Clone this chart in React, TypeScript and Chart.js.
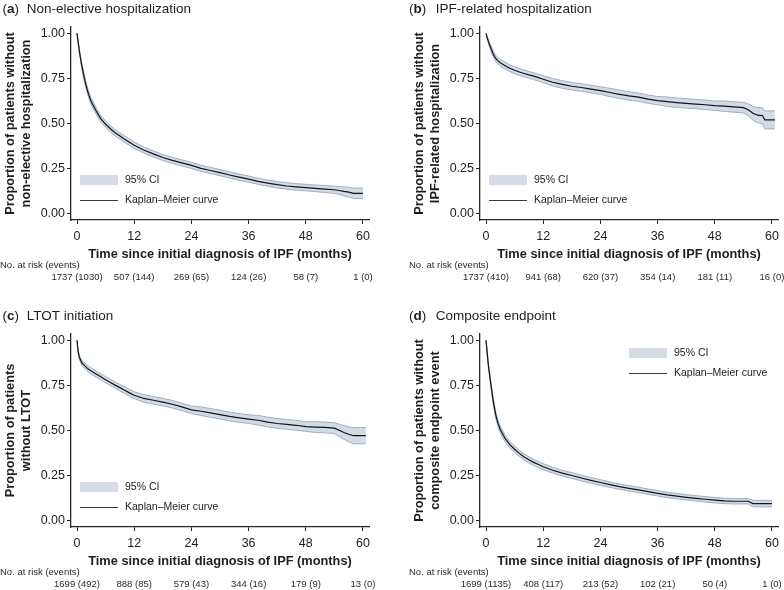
import React, { useEffect, useRef } from 'react';
import { Chart, registerables } from 'chart.js';

Chart.register(...registerables);

const FONT = '"Liberation Sans", Arial, Helvetica, sans-serif';
const TEXT = '#1e1e1e';
const AXIS = '#262626';
const CI_FILL = 'rgba(200,210,224,0.8)';
const CI_EDGE = '#9eafc3';
const KM_LINE = '#141414';

const X_TICKS = [0, 12, 24, 36, 48, 60];
const Y_TICKS = [0, 0.25, 0.5, 0.75, 1];
const X_TITLE = 'Time since initial diagnosis of IPF (months)';
const RISK_LABEL = 'No. at risk (events)';
const LEGEND_CI = '95% CI';
const LEGEND_KM = 'Kaplan–Meier curve';

// (a) Non-elective hospitalization
const titleA = 'Non-elective hospitalization';
const yTitleA = ['Proportion of patients without', 'non-elective hospitalization'];
const monthsA = [0, 0.25, 0.5, 0.75, 1, 1.5, 2, 2.5, 3, 4, 5, 6, 7, 8, 9, 10, 11, 12, 14, 16, 18, 20, 22, 24, 26, 28, 30, 32, 34, 36, 38, 40, 42, 44, 46, 48, 50, 52, 54, 55, 56, 57, 58, 60];
const kmA = [1, 0.95, 0.9, 0.86, 0.82, 0.755, 0.7, 0.655, 0.62, 0.57, 0.525, 0.495, 0.47, 0.448, 0.43, 0.412, 0.395, 0.378, 0.352, 0.33, 0.31, 0.294, 0.28, 0.266, 0.25, 0.238, 0.226, 0.213, 0.201, 0.19, 0.178, 0.168, 0.159, 0.152, 0.147, 0.143, 0.139, 0.135, 0.131, 0.127, 0.122, 0.118, 0.111, 0.111];
const lowerA = [1, 0.94, 0.888, 0.846, 0.804, 0.737, 0.682, 0.637, 0.602, 0.552, 0.507, 0.477, 0.452, 0.43, 0.412, 0.394, 0.377, 0.36, 0.335, 0.313, 0.293, 0.277, 0.263, 0.249, 0.233, 0.221, 0.209, 0.196, 0.184, 0.173, 0.161, 0.151, 0.141, 0.134, 0.129, 0.125, 0.121, 0.115, 0.111, 0.105, 0.097, 0.091, 0.082, 0.082];
const upperA = [1, 0.96, 0.912, 0.874, 0.836, 0.773, 0.718, 0.673, 0.638, 0.588, 0.543, 0.513, 0.488, 0.466, 0.448, 0.43, 0.413, 0.396, 0.369, 0.347, 0.327, 0.311, 0.297, 0.283, 0.267, 0.255, 0.243, 0.23, 0.218, 0.207, 0.195, 0.185, 0.177, 0.17, 0.165, 0.161, 0.157, 0.155, 0.151, 0.149, 0.147, 0.145, 0.14, 0.14];
const riskA = ['1737 (1030)', '507 (144)', '269 (65)', '124 (26)', '58 (7)', '1 (0)'];

// (b) IPF-related hospitalization
const titleB = 'IPF-related hospitalization';
const yTitleB = ['Proportion of patients without', 'IPF-related hospitalization'];
const monthsB = [0, 0.25, 0.5, 0.75, 1, 1.5, 2, 2.5, 3, 4, 5, 6, 7, 8, 9, 10, 11, 12, 14, 16, 18, 20, 22, 24, 26, 28, 30, 32, 34, 36, 38, 40, 42, 44, 46, 48, 50, 52, 54, 55, 56, 57, 58, 58.5, 60.6];
const kmB = [1, 0.975, 0.955, 0.935, 0.92, 0.885, 0.862, 0.847, 0.836, 0.82, 0.806, 0.795, 0.785, 0.777, 0.769, 0.762, 0.754, 0.745, 0.728, 0.716, 0.706, 0.699, 0.69, 0.682, 0.671, 0.661, 0.652, 0.645, 0.634, 0.626, 0.62, 0.615, 0.611, 0.607, 0.603, 0.598, 0.595, 0.591, 0.587, 0.575, 0.556, 0.545, 0.543, 0.519, 0.519];
const lowerB = [1, 0.967, 0.944, 0.922, 0.905, 0.869, 0.845, 0.829, 0.818, 0.801, 0.787, 0.776, 0.766, 0.758, 0.75, 0.743, 0.735, 0.726, 0.707, 0.695, 0.685, 0.678, 0.669, 0.661, 0.648, 0.638, 0.629, 0.622, 0.611, 0.603, 0.594, 0.589, 0.585, 0.581, 0.577, 0.572, 0.566, 0.562, 0.558, 0.542, 0.518, 0.503, 0.498, 0.469, 0.469];
const upperB = [1, 0.983, 0.966, 0.948, 0.935, 0.901, 0.879, 0.865, 0.854, 0.839, 0.825, 0.814, 0.804, 0.796, 0.788, 0.781, 0.773, 0.764, 0.749, 0.737, 0.727, 0.72, 0.711, 0.703, 0.694, 0.684, 0.675, 0.668, 0.657, 0.649, 0.646, 0.641, 0.637, 0.633, 0.629, 0.624, 0.624, 0.62, 0.616, 0.608, 0.594, 0.587, 0.587, 0.569, 0.569];
const riskB = ['1737 (410)', '941 (68)', '620 (37)', '354 (14)', '181 (11)', '16 (0)'];

// (c) LTOT initiation
const titleC = 'LTOT initiation';
const yTitleC = ['Proportion of patients', 'without LTOT'];
const monthsC = [0, 0.25, 0.5, 0.75, 1, 1.5, 2, 2.5, 3, 4, 5, 6, 7, 8, 9, 10, 11, 12, 14, 16, 18, 20, 22, 24, 26, 28, 30, 32, 34, 36, 38, 40, 42, 44, 46, 48, 50, 52, 54, 55, 56, 57, 58, 60.6];
const kmC = [1, 0.935, 0.905, 0.89, 0.875, 0.862, 0.848, 0.838, 0.829, 0.813, 0.797, 0.781, 0.766, 0.751, 0.737, 0.723, 0.708, 0.695, 0.677, 0.667, 0.657, 0.645, 0.63, 0.614, 0.606, 0.597, 0.587, 0.577, 0.569, 0.562, 0.556, 0.546, 0.538, 0.533, 0.528, 0.521, 0.518, 0.516, 0.512, 0.5, 0.488, 0.478, 0.47, 0.47];
const lowerC = [1, 0.925, 0.893, 0.877, 0.861, 0.847, 0.832, 0.822, 0.812, 0.796, 0.78, 0.764, 0.749, 0.734, 0.719, 0.704, 0.689, 0.676, 0.656, 0.646, 0.636, 0.624, 0.609, 0.593, 0.582, 0.573, 0.563, 0.553, 0.545, 0.538, 0.529, 0.519, 0.511, 0.506, 0.501, 0.494, 0.488, 0.486, 0.482, 0.466, 0.45, 0.436, 0.425, 0.425];
const upperC = [1, 0.945, 0.917, 0.903, 0.889, 0.877, 0.864, 0.854, 0.846, 0.83, 0.814, 0.798, 0.783, 0.768, 0.755, 0.742, 0.727, 0.714, 0.698, 0.688, 0.678, 0.666, 0.651, 0.635, 0.63, 0.621, 0.611, 0.601, 0.593, 0.586, 0.583, 0.573, 0.565, 0.56, 0.555, 0.548, 0.548, 0.546, 0.542, 0.534, 0.526, 0.52, 0.515, 0.515];
const riskC = ['1699 (492)', '888 (85)', '579 (43)', '344 (16)', '179 (9)', '13 (0)'];

// (d) Composite endpoint
const titleD = 'Composite endpoint';
const yTitleD = ['Proportion of patients without', 'composite endpoint event'];
const monthsD = [0, 0.25, 0.5, 0.75, 1, 1.5, 2, 2.5, 3, 4, 5, 6, 7, 8, 9, 10, 11, 12, 14, 16, 18, 20, 22, 24, 26, 28, 30, 32, 34, 36, 38, 40, 42, 44, 46, 48, 50, 52, 54, 55, 56, 57, 58, 60];
const kmD = [1, 0.93, 0.86, 0.81, 0.76, 0.665, 0.59, 0.54, 0.505, 0.455, 0.42, 0.395, 0.372, 0.352, 0.336, 0.322, 0.31, 0.298, 0.278, 0.262, 0.249, 0.235, 0.222, 0.21, 0.198, 0.187, 0.178, 0.169, 0.159, 0.15, 0.141, 0.134, 0.128, 0.122, 0.117, 0.112, 0.108, 0.106, 0.106, 0.106, 0.093, 0.093, 0.093, 0.093];
const lowerD = [1, 0.92, 0.847, 0.795, 0.744, 0.647, 0.572, 0.522, 0.487, 0.437, 0.402, 0.377, 0.355, 0.335, 0.319, 0.305, 0.293, 0.281, 0.262, 0.246, 0.233, 0.219, 0.206, 0.194, 0.183, 0.172, 0.163, 0.154, 0.144, 0.135, 0.126, 0.119, 0.113, 0.107, 0.102, 0.097, 0.093, 0.091, 0.091, 0.091, 0.075, 0.075, 0.075, 0.075];
const upperD = [1, 0.94, 0.873, 0.825, 0.776, 0.683, 0.608, 0.558, 0.523, 0.473, 0.438, 0.413, 0.389, 0.369, 0.353, 0.339, 0.327, 0.315, 0.294, 0.278, 0.265, 0.251, 0.238, 0.226, 0.213, 0.202, 0.193, 0.184, 0.174, 0.165, 0.156, 0.149, 0.143, 0.137, 0.132, 0.127, 0.123, 0.121, 0.121, 0.121, 0.111, 0.111, 0.111, 0.111];
const riskD = ['1699 (1135)', '408 (117)', '213 (52)', '102 (21)', '50 (4)', '1 (0)'];

type PanelSpec = {
  letter: string;
  title: string;
  yTitle: string[];
  months: number[];
  km: number[];
  lower: number[];
  upper: number[];
  risk: string[];
  left: number;
  top: number;
  width: number;
  height: number;
  titleX: number;
  legendX: number;
  legendY: number;
};

const PANELS: PanelSpec[] = [
  { letter: 'a', title: titleA, yTitle: yTitleA, months: monthsA, km: kmA, lower: lowerA, upper: upperA, risk: riskA, left: 0, top: 0, width: 400, height: 284, titleX: 2.5, legendX: 80, legendY: 175 },
  { letter: 'b', title: titleB, yTitle: yTitleB, months: monthsB, km: kmB, lower: lowerB, upper: upperB, risk: riskB, left: 409, top: 0, width: 375, height: 284, titleX: 0, legendX: 80, legendY: 175 },
  { letter: 'c', title: titleC, yTitle: yTitleC, months: monthsC, km: kmC, lower: lowerC, upper: upperC, risk: riskC, left: 0, top: 307, width: 400, height: 283, titleX: 2.5, legendX: 80, legendY: 175 },
  { letter: 'd', title: titleD, yTitle: yTitleD, months: monthsD, km: kmD, lower: lowerD, upper: upperD, risk: riskD, left: 409, top: 307, width: 375, height: 283, titleX: 0, legendX: 220, legendY: 41 },
];

const AREA_LEFT = 71;
const AREA_RIGHT = 369;
const AREA_TOP = 27;
const AREA_BOTTOM = 220;
const X_AXIS_BOTTOM = 261.7;

function decorPlugin(p: PanelSpec) {
  return {
    id: 'decor_' + p.letter,
    afterDraw(chart: any) {
      const ctx = chart.ctx as CanvasRenderingContext2D;
      const xs = chart.scales.x;
      ctx.save();
      ctx.fillStyle = TEXT;
      ctx.textAlign = 'left';
      ctx.textBaseline = 'alphabetic';
      // panel title
      let x = p.titleX;
      const base = 12.5;
      ctx.font = `13.5px ${FONT}`;
      ctx.fillText('(', x, base);
      x += ctx.measureText('(').width;
      ctx.font = `bold 13.5px ${FONT}`;
      ctx.fillText(p.letter, x, base);
      x += ctx.measureText(p.letter).width;
      ctx.font = `13.5px ${FONT}`;
      ctx.fillText(')', x, base);
      ctx.fillText(p.title, 26.7, base);

      // legend
      const lx = p.legendX;
      const ly = p.legendY;
      ctx.fillStyle = '#d5dce6';
      ctx.fillRect(lx, ly, 38, 10);
      ctx.strokeStyle = '#3a3a3a';
      ctx.lineWidth = 1;
      ctx.beginPath();
      ctx.moveTo(lx, ly + 25.5);
      ctx.lineTo(lx + 38, ly + 25.5);
      ctx.stroke();
      ctx.fillStyle = TEXT;
      ctx.font = `10.5px ${FONT}`;
      ctx.textBaseline = 'middle';
      ctx.fillText(LEGEND_CI, lx + 45, ly + 5.5);
      ctx.fillText(LEGEND_KM, lx + 45, ly + 25.5);

      // number at risk table
      ctx.font = `9.5px ${FONT}`;
      ctx.fillStyle = '#2a2a2a';
      ctx.fillText(RISK_LABEL, 0, 265.5);
      ctx.textAlign = 'center';
      p.risk.forEach((s, i) => {
        ctx.fillText(s, xs.getPixelForValue(X_TICKS[i]), 277.7);
      });
      ctx.restore();
    },
  };
}

function makeConfig(p: PanelSpec): any {
  const pts = (ys: number[]) => p.months.map((t, i) => ({ x: t, y: ys[i] }));
  return {
    type: 'line',
    data: {
      datasets: [
        {
          label: LEGEND_KM,
          data: pts(p.km),
          borderColor: KM_LINE,
          borderWidth: 1.2,
          pointRadius: 0,
          tension: 0,
          fill: false,
        },
        {
          label: 'upper',
          data: pts(p.upper),
          borderColor: CI_EDGE,
          borderWidth: 1,
          pointRadius: 0,
          tension: 0,
          fill: false,
        },
        {
          label: LEGEND_CI,
          data: pts(p.lower),
          borderColor: CI_EDGE,
          borderWidth: 1,
          pointRadius: 0,
          tension: 0,
          fill: '-1',
          backgroundColor: CI_FILL,
        },
      ],
    },
    options: {
      responsive: false,
      maintainAspectRatio: false,
      animation: false,
      devicePixelRatio: 1,
      layout: {
        padding: {
          left: 0,
          top: AREA_TOP,
          right: p.width - AREA_RIGHT,
          bottom: p.height - X_AXIS_BOTTOM,
        },
      },
      plugins: {
        legend: { display: false },
        tooltip: { enabled: false },
        title: { display: false },
      },
      scales: {
        x: {
          type: 'linear',
          min: -1.26,
          max: 61.26,
          afterBuildTicks: (s: any) => {
            s.ticks = X_TICKS.map((v) => ({ value: v }));
          },
          afterFit: (s: any) => {
            s.height = X_AXIS_BOTTOM - AREA_BOTTOM;
            s.paddingLeft = 0;
            s.paddingRight = 0;
          },
          grid: { drawOnChartArea: false, drawTicks: true, tickLength: 4, color: AXIS, lineWidth: 1 },
          border: { display: true, color: AXIS, width: 1.3 },
          ticks: {
            font: { family: FONT, size: 12.5 },
            color: TEXT,
            padding: 5.5,
            maxRotation: 0,
            autoSkip: false,
            callback: (v: any) => String(v),
          },
          title: {
            display: true,
            text: X_TITLE,
            font: { family: FONT, size: 12.8, weight: 'bold', lineHeight: 1.2 },
            color: TEXT,
            padding: { top: 0, bottom: 0 },
          },
        },
        y: {
          type: 'linear',
          min: -0.037,
          max: 1.035,
          afterBuildTicks: (s: any) => {
            s.ticks = Y_TICKS.map((v) => ({ value: v }));
          },
          afterFit: (s: any) => {
            s.width = AREA_LEFT;
            s.paddingTop = 0;
            s.paddingBottom = 0;
          },
          grid: { drawOnChartArea: false, drawTicks: true, tickLength: 4, color: AXIS, lineWidth: 1 },
          border: { display: true, color: AXIS, width: 1.3 },
          ticks: {
            font: { family: FONT, size: 12.5 },
            color: TEXT,
            padding: 2,
            autoSkip: false,
            callback: (v: any) => Number(v).toFixed(2),
          },
          title: {
            display: true,
            text: p.yTitle,
            font: { family: FONT, size: 12.8, weight: 'bold', lineHeight: 1.25 },
            color: TEXT,
            padding: { top: 2, bottom: 0 },
          },
        },
      },
    },
    plugins: [decorPlugin(p)],
  };
}

function Panel({ spec }: { spec: PanelSpec }) {
  const ref = useRef<HTMLCanvasElement | null>(null);
  useEffect(() => {
    if (!ref.current) return;
    const chart = new Chart(ref.current, makeConfig(spec));
    return () => chart.destroy();
  }, [spec]);
  return (
    <canvas
      ref={ref}
      width={spec.width}
      height={spec.height}
      style={{
        position: 'absolute',
        left: spec.left,
        top: spec.top,
        width: spec.width,
        height: spec.height,
      }}
    />
  );
}

export default function App() {
  return (
    <div
      style={{
        position: 'absolute',
        left: 0,
        top: 0,
        width: 784,
        height: 590,
        background: '#ffffff',
        overflow: 'hidden',
      }}
    >
      {PANELS.map((p) => (
        <Panel key={p.letter} spec={p} />
      ))}
    </div>
  );
}
